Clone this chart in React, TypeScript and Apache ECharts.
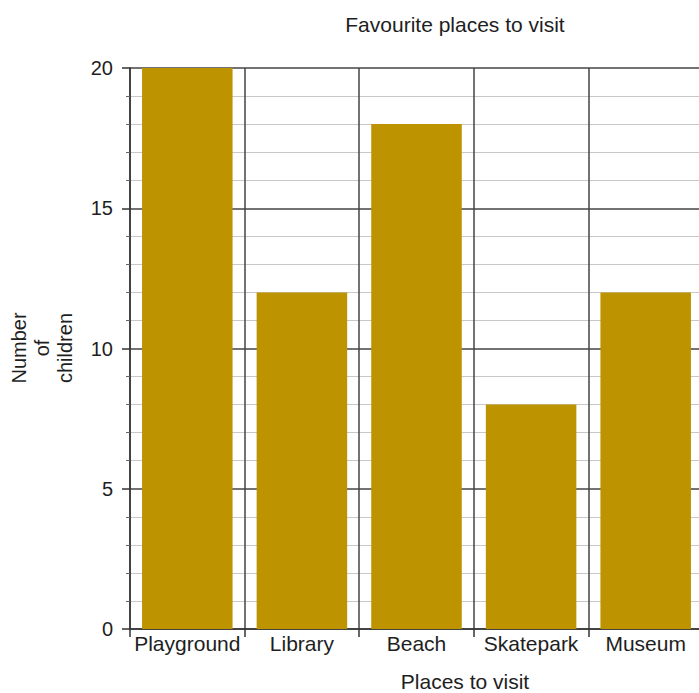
import React, { useEffect, useRef } from "react";
import * as echarts from "echarts";

const categories = ["Playground", "Library", "Beach", "Skatepark", "Museum"];
const values = [20, 12, 18, 8, 12];
const yTicks = [0, 5, 10, 15, 20];
const titleText = "Favourite places to visit";
const xName = "Places to visit";
const yName = "Number\nof\nchildren";

const FONT = "Liberation Sans, Arial, Helvetica, sans-serif";
const TXT = "#1e1e1e";

export default function App() {
  const ref = useRef<HTMLDivElement>(null);
  useEffect(() => {
    if (!ref.current) return;
    const chart = echarts.init(ref.current, undefined, { renderer: "svg" });
    chart.setOption({
      animation: false,
      backgroundColor: "#ffffff",
      textStyle: { fontFamily: FONT },
      grid: { left: 130, right: 0, top: 68, bottom: 64, containLabel: false },
      graphic: [
        {
          type: "text",
          x: 455,
          y: 24,
          style: {
            text: titleText,
            fontSize: 21,
            fontFamily: FONT,
            fill: TXT,
            textAlign: "center",
            textVerticalAlign: "middle",
          },
        },
        {
          type: "text",
          x: 465,
          y: 681,
          style: {
            text: xName,
            fontSize: 21,
            fontFamily: FONT,
            fill: TXT,
            textAlign: "center",
            textVerticalAlign: "middle",
          },
        },
        {
          type: "text",
          x: 42,
          y: 348,
          rotation: Math.PI / 2,
          style: {
            text: yName,
            fontSize: 20,
            lineHeight: 23,
            fontFamily: FONT,
            fill: TXT,
            textAlign: "center",
            textVerticalAlign: "middle",
          },
        },
      ],
      xAxis: {
        type: "category",
        data: categories,
        boundaryGap: true,
        axisLine: { show: true, lineStyle: { color: "#333", width: 1.5 } },
        axisTick: { show: true, length: 8, interval: 0, lineStyle: { color: "#333", width: 1.5 } },
        axisLabel: { interval: 0, margin: 4, fontSize: 21, color: TXT, fontFamily: FONT },
        splitLine: { show: true, interval: 0, lineStyle: { color: "#444", width: 1.5 } },
      },
      yAxis: {
        type: "value",
        min: yTicks[0],
        max: yTicks[yTicks.length - 1],
        interval: 5,
        axisLine: { show: true, lineStyle: { color: "#333", width: 1.5 } },
        axisTick: { show: true, length: 8, lineStyle: { color: "#333", width: 1.5 } },
        minorTick: { show: true, splitNumber: 5, length: 4, lineStyle: { color: "#666", width: 1 } },
        axisLabel: { margin: 17, fontSize: 20, color: TXT, fontFamily: FONT },
        splitLine: { show: true, lineStyle: { color: "#444", width: 1.5 } },
        minorSplitLine: { show: true, lineStyle: { color: "#c8c8c8", width: 1 } },
      },
      series: [
        {
          type: "bar",
          data: values,
          barCategoryGap: "21%",
          itemStyle: { color: "#BE9300" },
        },
      ],
    });
    return () => chart.dispose();
  }, []);
  return (
    <div
      style={{ position: "absolute", left: 0, top: 0, width: 699, height: 693, overflow: "hidden" }}
    >
      <div ref={ref} style={{ width: 703, height: 693 }} />
    </div>
  );
}
